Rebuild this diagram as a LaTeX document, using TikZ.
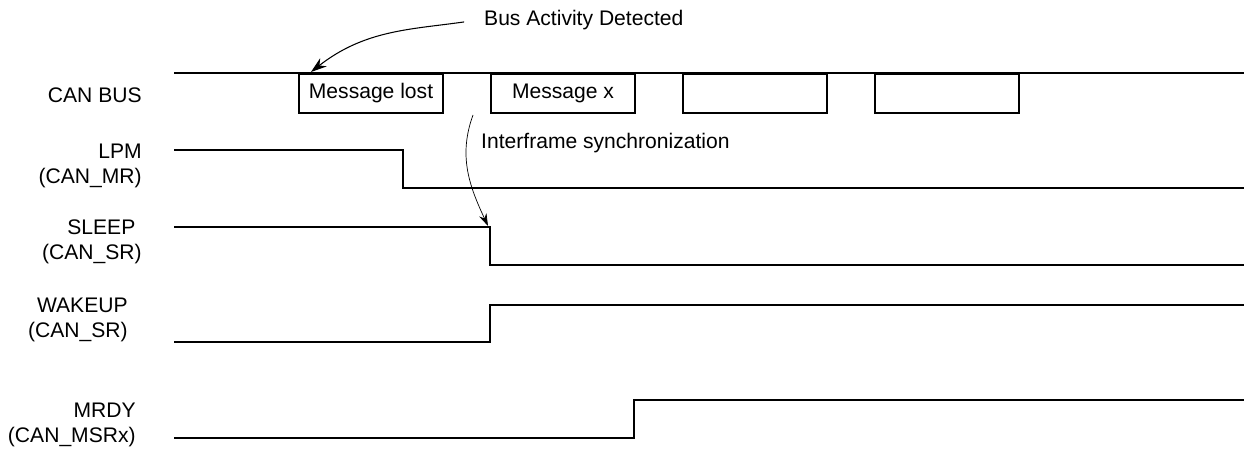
\documentclass[tikz,border=0pt]{standalone}
\usepackage{fontspec}
\setmainfont{Liberation Sans}
\usetikzlibrary{arrows.meta}

\begin{document}
\begin{tikzpicture}[
    x=0.02cm, y=-0.02cm,
    every node/.style={font=\fontsize{12}{14.2}\selectfont},
    sig/.style={line width=1.2pt},
    msg/.style={draw, line width=1.2pt, minimum width=2.88cm, minimum height=0.78cm, inner sep=0pt, anchor=north west},
    lbl/.style={align=right, anchor=east, inner sep=0pt},
    arr/.style={-{Stealth[length=9pt, width=6pt]}, semithick},
]
\useasboundingbox (0,0) rectangle (1245,452);
% === Signal names ===
\node[lbl] (canbus) at (142,95) {CAN BUS};
\node[lbl] (lpm) at (142,166) {LPM\\(CAN\_MR)};
\node[lbl] (sleep) at (142,242) {SLEEP\hspace*{0.3em}\\(CAN\_SR)};
\node[lbl] (wakeup) at (128,320) {WAKEUP\\(CAN\_SR)};
\node[lbl] (mrdy) at (136,425) {MRDY\\(CAN\_MSRx)};
% === CAN bus with frames ===
\draw[sig] (174,73) -- (1244,73);
\node[msg] (m1) at (298,73) {Message lost};
\node[msg] (m2) at (490,73) {Message x};
\node[msg] (m3) at (682,73) {};
\node[msg] (m4) at (874,73) {};
% === Waveforms ===
\draw[sig] (174,150) -| (403,188) -- (1244,188);
\draw[sig] (174,227) -| (490,265) -- (1244,265);
\draw[sig] (174,342) -| (490,305) -- (1244,305);
\draw[sig] (174,438) -| (634,400) -- (1244,400);
% === Annotations ===
\node[anchor=west] (busact) at (478,20) {Bus Activity Detected};
\coordinate (hit) at (311,72);
\draw[arr, shorten <=8pt] (busact.west) to[out=188, in=38] (hit);
\node[anchor=west] (ifsync) at (475,143) {Interframe synchronization};
\coordinate (gap) at (473,115);
\coordinate (sleepfall) at (488,226);
\draw[arr, thin, -{Stealth[length=7pt, width=4.5pt]}] (gap) to[out=250, in=115] (sleepfall);
\end{tikzpicture}
\end{document}
